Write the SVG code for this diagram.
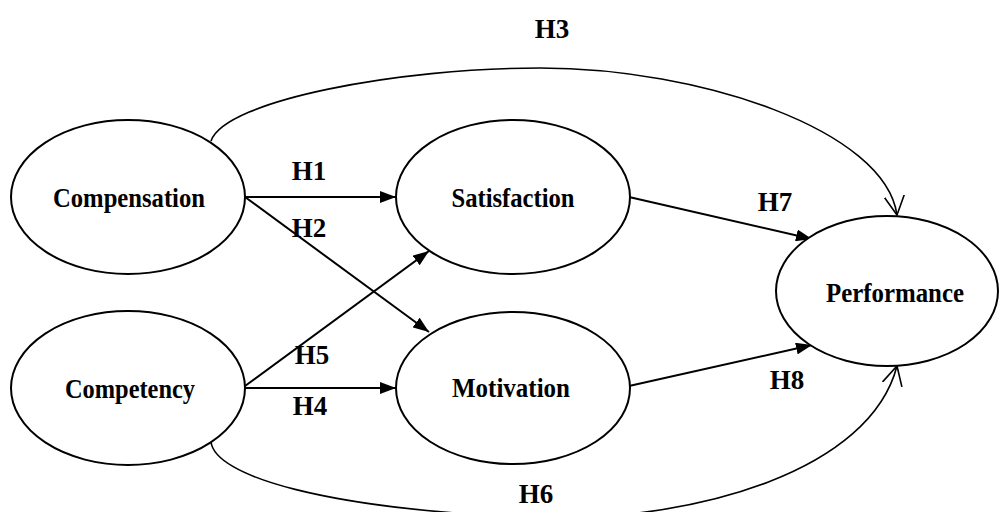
<svg xmlns="http://www.w3.org/2000/svg" width="1003" height="512" viewBox="0 0 1003 512">
<style>
.node ellipse{fill:#fff;stroke:#000;stroke-width:2}
.node text{font-family:"Liberation Serif","Times New Roman",serif;font-weight:bold;font-size:28px;text-anchor:middle;fill:#000}
.lbl{font-family:"Liberation Serif","Times New Roman",serif;font-weight:bold;font-size:27px;text-anchor:middle;fill:#000}
.edge{fill:none;stroke:#000;stroke-width:2}
.curve{fill:none;stroke:#000;stroke-width:1.6}
</style>
<defs>
<marker id="fill" viewBox="0 0 16 12" refX="16" refY="6" markerWidth="16" markerHeight="12" markerUnits="userSpaceOnUse" orient="auto">
<path d="M0,0 L16,6 L0,12 Z" fill="#000"/>
</marker>
<marker id="open" viewBox="0 0 20 22" refX="19" refY="11" markerWidth="20" markerHeight="22" markerUnits="userSpaceOnUse" orient="auto">
<path d="M0,1 L19,11 L0,21" fill="none" stroke="#000" stroke-width="1.6"/>
</marker>
</defs>
<rect width="1003" height="512" fill="#fff"/>
<g id="connectors">
<path class="edge" d="M245,197 L396,197" marker-end="url(#fill)"/>
<path class="edge" d="M245,197 L429,332" marker-end="url(#fill)"/>
<path class="edge" d="M245,386 L429,251" marker-end="url(#fill)"/>
<path class="edge" d="M245,388 L396,388" marker-end="url(#fill)"/>
<path class="edge" d="M629,197 L812,239" marker-end="url(#fill)"/>
<path class="edge" d="M629,386 L812,345" marker-end="url(#fill)"/>
<path class="curve" d="M211,141 C225,100 400,68 540,68 C700,68 885,130 897,215" marker-end="url(#open)"/>
<path class="curve" d="M211,442 C215,475 320,510 545,518 C700,520 870,470 897,366" marker-end="url(#open)"/>
<text class="lbl" x="309" y="180">H1</text>
<text class="lbl" x="309" y="237">H2</text>
<text class="lbl" x="552" y="38">H3</text>
<text class="lbl" x="775" y="211">H7</text>
<text class="lbl" x="312" y="364">H5</text>
<text class="lbl" x="310" y="415">H4</text>
<text class="lbl" x="787" y="389">H8</text>
<text class="lbl" x="536" y="503">H6</text>
</g>
<g id="compensation" class="node">
<ellipse cx="128" cy="197" rx="117" ry="77"/>
<text x="129" y="207" textLength="152" lengthAdjust="spacingAndGlyphs">Compensation</text>
</g>
<g id="competency" class="node">
<ellipse cx="128" cy="388" rx="117" ry="77"/>
<text x="130" y="398" textLength="130" lengthAdjust="spacingAndGlyphs">Competency</text>
</g>
<g id="satisfaction" class="node">
<ellipse cx="513" cy="197" rx="117" ry="77"/>
<text x="513" y="207" textLength="123" lengthAdjust="spacingAndGlyphs">Satisfaction</text>
</g>
<g id="motivation" class="node">
<ellipse cx="513" cy="388" rx="117" ry="76"/>
<text x="511" y="397" textLength="118" lengthAdjust="spacingAndGlyphs">Motivation</text>
</g>
<g id="performance" class="node">
<ellipse cx="887" cy="291" rx="111" ry="75"/>
<text x="895" y="302" textLength="138" lengthAdjust="spacingAndGlyphs">Performance</text>
</g>
</svg>
